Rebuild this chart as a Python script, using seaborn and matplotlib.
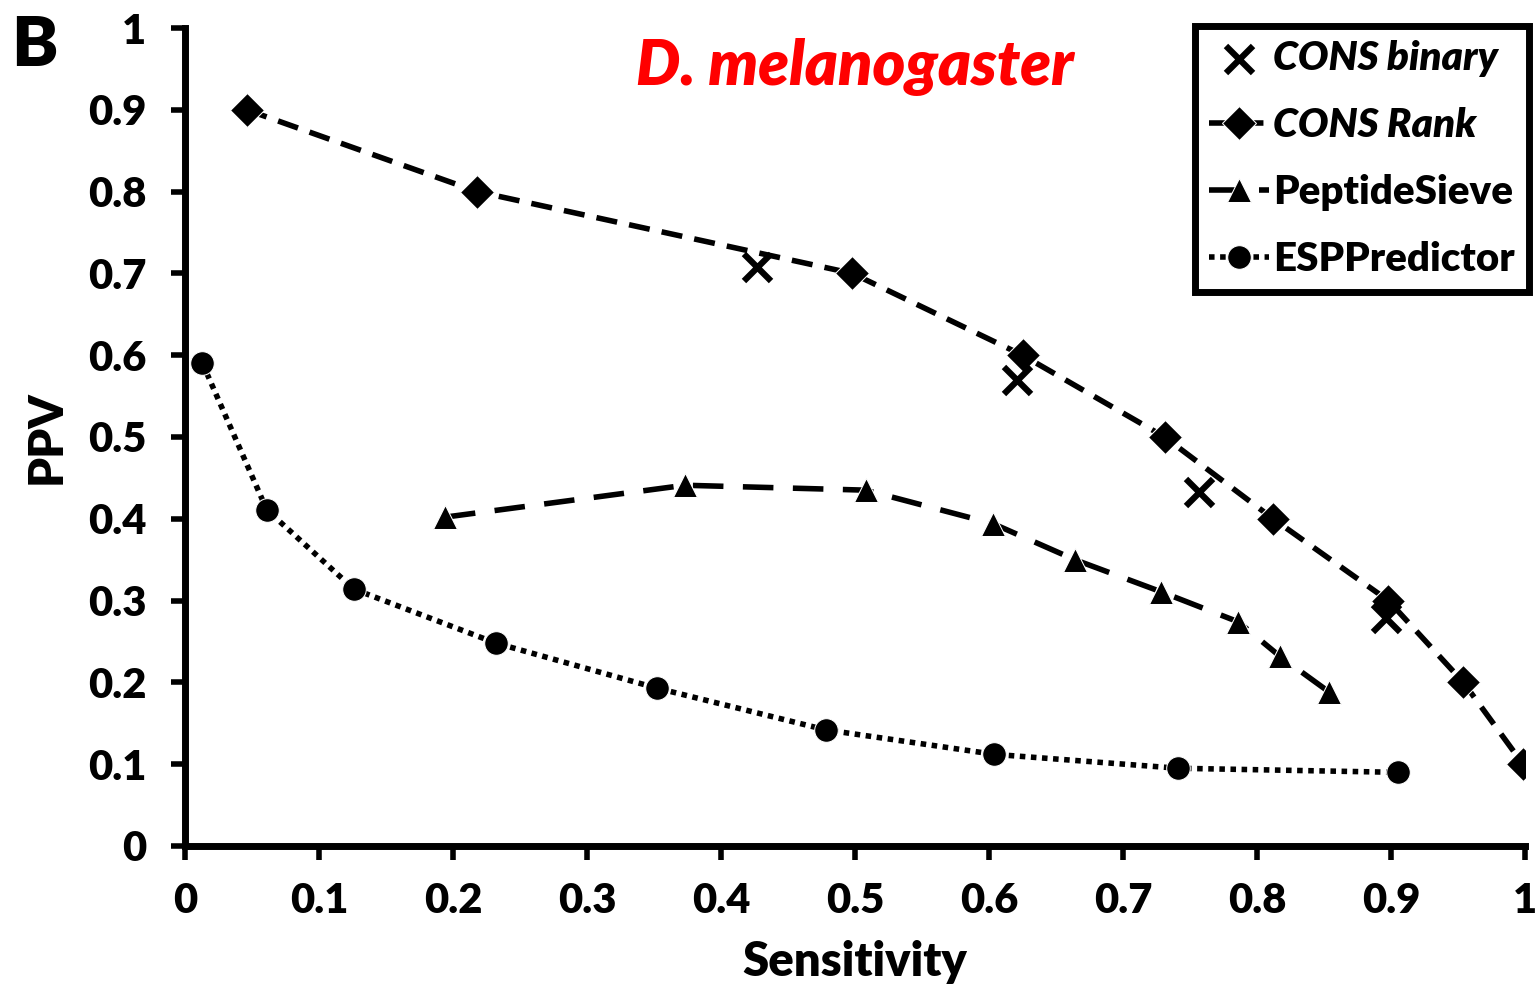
import pandas as pd
import matplotlib.pyplot as plt
import seaborn as sns

# values
cons_binary_x = [0.427, 0.621, 0.757, 0.896]
cons_binary_y = [0.708, 0.570, 0.433, 0.279]

cons_rank_x = [0.046, 0.218, 0.498, 0.625, 0.731, 0.812, 0.898, 0.954, 0.9985]
cons_rank_y = [0.9, 0.8, 0.7, 0.6, 0.5, 0.4, 0.3, 0.2, 0.1]

sieve_x = [0.194, 0.373, 0.508, 0.603, 0.664, 0.728, 0.786, 0.817, 0.854]
sieve_y = [0.402, 0.441, 0.435, 0.394, 0.350, 0.311, 0.274, 0.232, 0.188]

esp_x = [0.013, 0.061, 0.126, 0.232, 0.352, 0.478, 0.604, 0.741, 0.905]
esp_y = [0.590, 0.411, 0.314, 0.248, 0.193, 0.142, 0.112, 0.095, 0.090]

ticks = [0, 0.1, 0.2, 0.3, 0.4, 0.5, 0.6, 0.7, 0.8, 0.9, 1]
tick_labels = ['0', '0.1', '0.2', '0.3', '0.4', '0.5', '0.6', '0.7', '0.8', '0.9', '1']

sns.set_style('white')
plt.rcParams['font.family'] = ['Lato', 'DejaVu Sans']
plt.rcParams['text.color'] = 'black'
plt.rcParams['axes.labelcolor'] = 'black'
plt.rcParams['xtick.color'] = 'black'
plt.rcParams['ytick.color'] = 'black'

fig = plt.figure(figsize=(15.37, 9.90), dpi=100)
ax = fig.add_axes([0.1204, 0.1455, 0.8718, 0.8262])

df_rank = pd.DataFrame({'x': cons_rank_x, 'y': cons_rank_y})
df_sieve = pd.DataFrame({'x': sieve_x, 'y': sieve_y})
df_esp = pd.DataFrame({'x': esp_x, 'y': esp_y})
df_bin = pd.DataFrame({'x': cons_binary_x, 'y': cons_binary_y})

sns.scatterplot(data=df_bin, x='x', y='y', marker='x', s=380, color='black',
                linewidth=4.5, ax=ax, label='CONS binary', zorder=5)
sns.lineplot(data=df_rank, x='x', y='y', marker='D', markersize=17, color='black',
             linewidth=4, ax=ax, label='CONS Rank', sort=False, zorder=4)
ax.lines[-1].set_dashes([3.8, 2.2])
sns.lineplot(data=df_sieve, x='x', y='y', marker='^', markersize=17, color='black',
             linewidth=4, ax=ax, label='PeptideSieve', sort=False, zorder=4)
ax.lines[-1].set_dashes([5.5, 3.5])
sns.lineplot(data=df_esp, x='x', y='y', marker='o', markersize=17, color='black',
             linewidth=4, ax=ax, label='ESPPredictor', sort=False, zorder=4)
ax.lines[-1].set_dashes([1, 1])

ax.set_xlim(0, 1)
ax.set_ylim(0, 1)
ax.set_xticks(ticks)
ax.set_xticklabels(tick_labels)
ax.set_yticks(ticks)
ax.set_yticklabels(tick_labels)
ax.tick_params(axis='both', direction='out', length=10, width=4, labelsize=30,
               left=True, bottom=True)
ax.tick_params(axis='x', pad=16)
ax.tick_params(axis='y', pad=18)
for lbl in ax.get_xticklabels() + ax.get_yticklabels():
    lbl.set_fontweight('heavy')

sns.despine(ax=ax)
for side in ['left', 'bottom']:
    ax.spines[side].set_linewidth(5)
    ax.spines[side].set_color('black')

ax.set_xlabel('Sensitivity', fontsize=34, fontweight='heavy', labelpad=14)
ax.set_ylabel('PPV', fontsize=34, fontweight='heavy', labelpad=14)
ax.grid(False)

fig.text(0.556, 0.932, 'D. melanogaster', color='red', fontsize=45,
         fontweight='heavy', fontstyle='italic', ha='center', va='center')
fig.text(0.007, 0.953, 'B', fontsize=50, fontweight='heavy', ha='left', va='center')

leg = ax.legend(loc='upper right', bbox_to_anchor=(1.003, 1.003), fontsize=29,
                frameon=True, fancybox=False, edgecolor='black', framealpha=1,
                handlelength=1.5, handletextpad=0.1, borderpad=0.35,
                labelspacing=0.75, borderaxespad=0)
leg.get_frame().set_linewidth(5)
for txt in leg.get_texts():
    txt.set_fontweight('heavy')
    if txt.get_text().startswith('CONS'):
        txt.set_fontstyle('italic')

fig.savefig('out.png', dpi=100)
